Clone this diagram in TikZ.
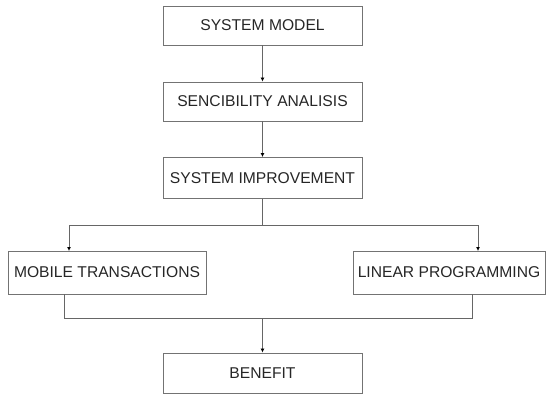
\documentclass[tikz,border=0pt]{standalone}
\usepackage{fontspec}
\setmainfont{Liberation Sans}
\usetikzlibrary{arrows.meta}
\begin{document}
\begin{tikzpicture}[x=1bp,y=-1bp,
  box/.style={draw=black!55,line width=0.9bp,inner sep=0pt,text=black!85,font=\fontsize{15.7}{18}\selectfont},
  conn/.style={draw=black!60,line width=0.9bp},
  arr/.style={conn,-{Latex[length=4bp,width=4bp,fill=black,color=black]}}]
\useasboundingbox (0,0) rectangle (546,395);
\node[box,minimum width=199bp,minimum height=39bp] (m) at (262.5,25.5) {SYSTEM MODEL};
\node[box,minimum width=199bp,minimum height=39bp] (s) at (262.5,101.5) {SENCIBILITY ANALISIS};
\node[box,minimum width=199bp,minimum height=41bp] (i) at (262.5,178) {SYSTEM IMPROVEMENT};
\node[box,minimum width=198bp,minimum height=43bp] (mt) at (107,272.5) {MOBILE TRANSACTIONS};
\node[box,minimum width=192bp,minimum height=43bp] (lp) at (449,272.5) {LINEAR PROGRAMMING};
\node[box,minimum width=199bp,minimum height=40bp] (b) at (262.5,373) {BENEFIT};
\coordinate (j1) at (262.5,225);
\coordinate (j2) at (262.5,318);
\draw[arr] (m) -- (s);
\draw[arr] (s) -- (i);
\draw[conn] (i) -- (j1);
\draw[arr] (j1) -| (69,251);
\draw[arr] (j1) -| (478,251);
\draw[conn] (64,294) |- (j2) -| (472,294);
\draw[arr] (j2) -- (b);
\end{tikzpicture}
\end{document}
